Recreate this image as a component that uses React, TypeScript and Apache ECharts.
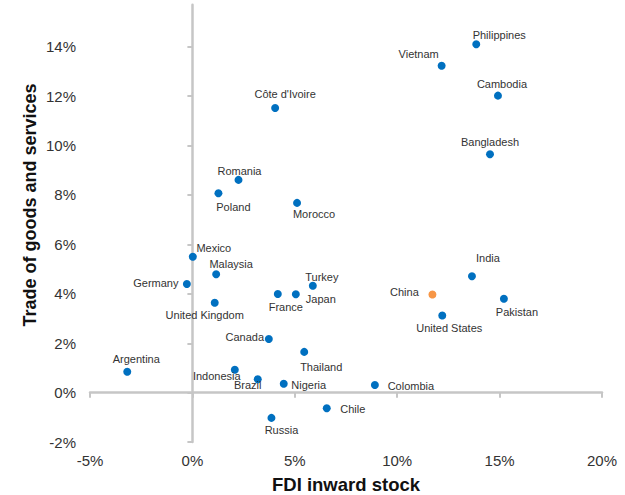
import React, { useEffect, useRef } from "react";
import * as echarts from "echarts";

// FDI inward stock (x, %) against trade of goods and services (y, %) by economy
const countries = [
  "Philippines", "Vietnam", "Cambodia", "Bangladesh", "Côte d'Ivoire", "Romania", "Poland",
  "Morocco", "Mexico", "Malaysia", "Germany", "United Kingdom", "France", "Japan", "Turkey",
  "Canada", "Thailand", "Argentina", "Indonesia", "Brazil", "Nigeria", "Russia", "Colombia",
  "Chile", "India", "China", "Pakistan", "United States",
];
const fdiInward = [
  13.86, 12.17, 14.92, 14.53, 4.04, 2.25, 1.27,
  5.11, 0.02, 1.16, -0.27, 1.09, 4.17, 5.05, 5.88,
  3.73, 5.46, -3.18, 2.07, 3.19, 4.46, 3.86, 8.91,
  6.56, 13.65, 11.72, 15.21, 12.2,
];
const tradeGoods = [
  14.1, 13.23, 12.02, 9.65, 11.52, 8.61, 8.07,
  7.68, 5.5, 4.79, 4.4, 3.64, 3.99, 3.98, 4.33,
  2.17, 1.65, 0.85, 0.93, 0.54, 0.36, -1.02, 0.31,
  -0.63, 4.71, 3.97, 3.8, 3.12,
];
const highlighted = ["China"];
const xTicks = [-5, 0, 5, 10, 15, 20];
const yTicks = [-2, 0, 2, 4, 6, 8, 10, 12, 14];

// label placement around each marker (pixel offsets of the label centre)
const labelOffsets: Record<string, [number, number]> = {
  Philippines: [23, -9], Vietnam: [-23, -12], Cambodia: [4, -12], Bangladesh: [0, -12],
  "Côte d'Ivoire": [10, -14], Romania: [1, -9], Poland: [15, 14], Morocco: [17, 11],
  Mexico: [21, -9], Malaysia: [15, -10], Germany: [-31, -1], "United Kingdom": [-10, 12],
  France: [8, 13], Japan: [25, 5], Turkey: [9, -9], Canada: [-24, -2], Thailand: [17, 15],
  Argentina: [9, -13], Indonesia: [-18, 6], Brazil: [-10, 6], Nigeria: [25, 1],
  Russia: [10, 12], Colombia: [36, 1], Chile: [26, 1], India: [16, -18], China: [-28, -3],
  Pakistan: [13, 13], "United States": [7, 12],
};

const FONT = "'Liberation Sans', Arial, Helvetica, sans-serif";
const AXIS_GREY = "#c6c6c6";
const TEXT = "#333333";
const BLUE = "#0070c0";
const ORANGE = "#f79646";

export default function App() {
  const ref = useRef<HTMLDivElement>(null);

  useEffect(() => {
    if (!ref.current) return;
    const chart = echarts.init(ref.current, undefined, { renderer: "svg" });

    const points = countries.map((name, i) => ({
      name,
      value: [fdiInward[i], tradeGoods[i]],
      itemStyle: { color: highlighted.includes(name) ? ORANGE : BLUE, opacity: 1 },
      label: { offset: labelOffsets[name] || [0, -12] },
    }));

    const pct = (v: number) => `${v}%`;

    chart.setOption({
      animation: false,
      backgroundColor: "#ffffff",
      grid: { left: 90, right: 23, top: 4.7, bottom: 52.9, containLabel: false },
      xAxis: [
        {
          type: "value",
          min: -5,
          max: 20,
          interval: 5,
          position: "bottom",
          axisLine: { show: true, onZero: true, lineStyle: { color: AXIS_GREY, width: 2.5 } },
          axisTick: { show: true, length: 5, lineStyle: { color: AXIS_GREY, width: 2 } },
          axisLabel: { show: false },
          splitLine: { show: false },
        },
        {
          type: "value",
          min: -5,
          max: 20,
          interval: 5,
          position: "bottom",
          axisLine: { show: false, onZero: false },
          axisTick: { show: false },
          axisLabel: {
            show: true,
            margin: 11,
            formatter: pct,
            color: TEXT,
            fontSize: 15,
            fontFamily: FONT,
            customValues: xTicks,
          },
          splitLine: { show: false },
        },
      ],
      yAxis: [
        {
          type: "value",
          min: -2,
          max: 15.7,
          interval: 2,
          position: "left",
          axisLine: { show: true, onZero: true, lineStyle: { color: AXIS_GREY, width: 2.5 } },
          axisTick: {
            show: true,
            length: 5,
            customValues: yTicks,
            lineStyle: { color: AXIS_GREY, width: 2 },
          },
          axisLabel: { show: false },
          splitLine: { show: false },
        },
        {
          type: "value",
          min: -2,
          max: 15.7,
          interval: 2,
          position: "left",
          axisLine: { show: false, onZero: false },
          axisTick: { show: false },
          axisLabel: {
            show: true,
            margin: 14,
            formatter: pct,
            color: TEXT,
            fontSize: 15,
            fontFamily: FONT,
            customValues: yTicks,
          },
          splitLine: { show: false },
        },
      ],
      graphic: [
        {
          type: "text",
          x: 346,
          y: 484,
          style: {
            text: "FDI inward stock",
            fill: "#111111",
            font: `bold 18.5px ${FONT}`,
            align: "center",
            verticalAlign: "middle",
          },
        },
        {
          type: "text",
          x: 30,
          y: 205,
          rotation: Math.PI / 2,
          style: {
            text: "Trade of goods and services",
            fill: "#111111",
            font: `bold 18px ${FONT}`,
            align: "center",
            verticalAlign: "middle",
          },
        },
      ],
      series: [
        {
          type: "scatter",
          xAxisIndex: 0,
          yAxisIndex: 0,
          symbol: "circle",
          symbolSize: 8,
          itemStyle: { opacity: 1 },
          data: points,
          label: {
            show: true,
            position: ["50%", "50%"],
            formatter: "{b}",
            align: "center",
            verticalAlign: "middle",
            color: TEXT,
            textBorderWidth: 0,
            fontSize: 11,
            fontFamily: FONT,
          },
          emphasis: { disabled: true },
        },
      ],
    });

    return () => chart.dispose();
  }, []);

  return (
    <div
      ref={ref}
      style={{ position: "fixed", left: 0, top: 0, width: 625, height: 495, background: "#fff" }}
    />
  );
}
